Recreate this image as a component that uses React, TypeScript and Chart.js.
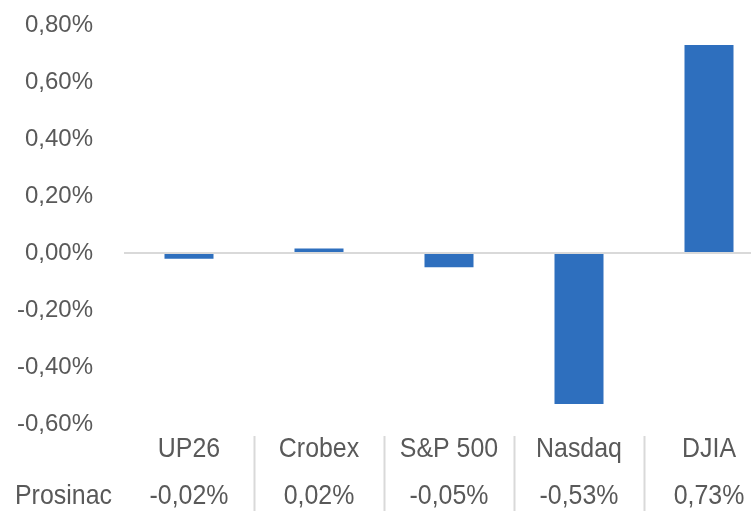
import React, { useEffect, useRef } from "react";
import { Chart, registerables } from "chart.js";

Chart.register(...registerables);

const categories = ["UP26", "Crobex", "S&P 500", "Nasdaq", "DJIA"];
const seriesName = "Prosinac";
const values = [-0.02, 0.016, -0.05, -0.53, 0.73];
const yMin = -0.6;
const yMax = 0.8;
const yStep = 0.2;

const TEXT_COLOR = "#595959";
const BAR_COLOR = "#2E6FBE";
const GRID_COLOR = "#D9D9D9";
const FONT_FAMILY = "'Liberation Sans', Arial, sans-serif";

function fmt(v: number): string {
  const r = Math.abs(v) < 1e-9 ? 0 : v;
  return r.toFixed(2).replace(".", ",") + "%";
}

const tablePlugin = {
  id: "dataTable",
  afterDraw(chart: any) {
    const ctx = chart.ctx as CanvasRenderingContext2D;
    const xs = chart.scales.x;
    const area = chart.chartArea;
    const catBaseline = area.bottom + 33;
    const valBaseline = area.bottom + 80;
    const squeeze = 0.89;
    ctx.save();
    ctx.strokeStyle = GRID_COLOR;
    ctx.lineWidth = 2;
    for (let i = 1; i < categories.length; i++) {
      const x = Math.round((xs.getPixelForValue(i - 1) + xs.getPixelForValue(i)) / 2) + 0.5;
      ctx.beginPath();
      ctx.moveTo(x, area.bottom + 12);
      ctx.lineTo(x, chart.height);
      ctx.stroke();
    }
    ctx.fillStyle = TEXT_COLOR;
    ctx.font = `28px ${FONT_FAMILY}`;
    ctx.textBaseline = "alphabetic";
    const drawText = (t: string, x: number, y: number, align: CanvasTextAlign) => {
      ctx.save();
      ctx.translate(x, y);
      ctx.scale(squeeze, 1);
      ctx.textAlign = align;
      ctx.fillText(t, 0, 0);
      ctx.restore();
    };
    categories.forEach((c, i) => {
      const x = xs.getPixelForValue(i);
      drawText(c, x, catBaseline, "center");
      drawText(fmt(values[i]), x, valBaseline, "center");
    });
    drawText(seriesName, 15, valBaseline, "left");
    ctx.restore();
  },
};

export default function App() {
  const ref = useRef<HTMLCanvasElement | null>(null);
  useEffect(() => {
    if (!ref.current) return;
    const chart = new Chart(ref.current, {
      type: "bar",
      data: {
        labels: categories,
        datasets: [
          {
            label: seriesName,
            data: values,
            backgroundColor: BAR_COLOR,
            borderWidth: 0,
            barPercentage: 0.377,
            categoryPercentage: 1,
          },
        ],
      },
      options: {
        animation: false,
        responsive: false,
        maintainAspectRatio: false,
        layout: { padding: { left: 0, right: 2, top: 25, bottom: 87 } },
        plugins: {
          legend: { display: false },
          tooltip: { enabled: false },
        },
        scales: {
          x: {
            display: false,
          },
          y: {
            min: yMin,
            max: yMax,
            afterFit(scale: any) {
              scale.width = 124;
              scale.paddingTop = 0;
              scale.paddingBottom = 0;
            },
            ticks: {
              stepSize: yStep,
              padding: 31,
              color: TEXT_COLOR,
              font: { family: FONT_FAMILY, size: 24 },
              callback: (v: any) => fmt(Number(v)),
            },
            border: { display: false },
            grid: {
              drawTicks: false,
              lineWidth: 2,
              color: (c: any) => (c.tick && Math.abs(c.tick.value) < 1e-9 ? GRID_COLOR : "rgba(0,0,0,0)"),
            },
          },
        },
      },
      plugins: [tablePlugin],
    });
    return () => chart.destroy();
  }, []);
  return (
    <div
      style={{
        position: "fixed",
        left: 0,
        top: 0,
        width: 751,
        height: 511,
        overflow: "hidden",
        background: "#fff",
      }}
    >
      <canvas ref={ref} width={776} height={511} style={{ display: "block" }} />
    </div>
  );
}
